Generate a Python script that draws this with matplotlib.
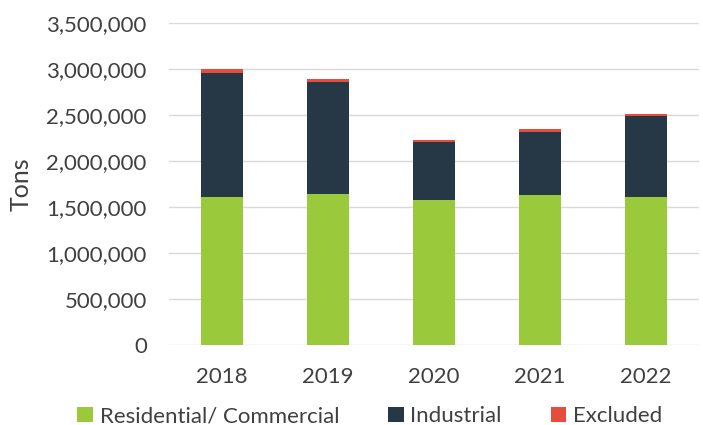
"""
Stacked bar chart of tons by sector, 2018-2022
"""
import matplotlib
matplotlib.use('Agg')
import matplotlib.pyplot as plt
from matplotlib.ticker import FuncFormatter
import numpy as np

years = ['2018', '2019', '2020', '2021', '2022']
residential = [1605000, 1640000, 1575000, 1630000, 1605000]
industrial = [1355000, 1220000, 630000, 690000, 885000]
excluded = [38000, 30000, 22000, 28000, 23000]

plt.rcParams['font.family'] = ['Lato', 'DejaVu Sans']

text_color = '#404040'
colors = ['#9ACA3C', '#263746', '#E84C3D']

fig = plt.figure(figsize=(7.03, 4.25), dpi=100)
ax = fig.add_axes([169 / 703, 80 / 425, 530 / 703, 322 / 425])

x = np.arange(len(years))
res = np.array(residential)
ind = np.array(industrial)
exc = np.array(excluded)

ax.bar(x, res, width=0.4, color=colors[0], label='Residential/ Commercial', zorder=3)
ax.bar(x, ind, width=0.4, bottom=res, color=colors[1], label='Industrial', zorder=3)
ax.bar(x, exc, width=0.4, bottom=res + ind, color=colors[2], label='Excluded', zorder=3)

ax.set_xlim(-0.5, len(years) - 0.5)
ax.set_ylim(0, 3500000)
ax.set_yticks(np.arange(0, 3500001, 500000))
ax.yaxis.set_major_formatter(FuncFormatter(lambda v, p: f'{int(v):,}'))
ax.set_xticks(x)
ax.set_xticklabels(years)

ax.grid(True, axis='y', color='#D9D9D9', linewidth=1, zorder=0)
for s in ax.spines.values():
    s.set_visible(False)
ax.tick_params(axis='both', length=0, labelsize=16, labelcolor=text_color)
ax.tick_params(axis='y', pad=16)
ax.tick_params(axis='x', pad=16)

ax.set_ylabel('Tons', fontsize=18, color=text_color)
ax.yaxis.set_label_coords(-0.258, 0.5)

fig.legend(loc='lower center', bbox_to_anchor=(0.526, -0.05), ncol=3, frameon=False,
           fontsize=16, handlelength=0.7, handleheight=0.7, handletextpad=0.3,
           columnspacing=2.2, labelcolor=text_color)

plt.savefig('out.png', dpi=100)
plt.close()
